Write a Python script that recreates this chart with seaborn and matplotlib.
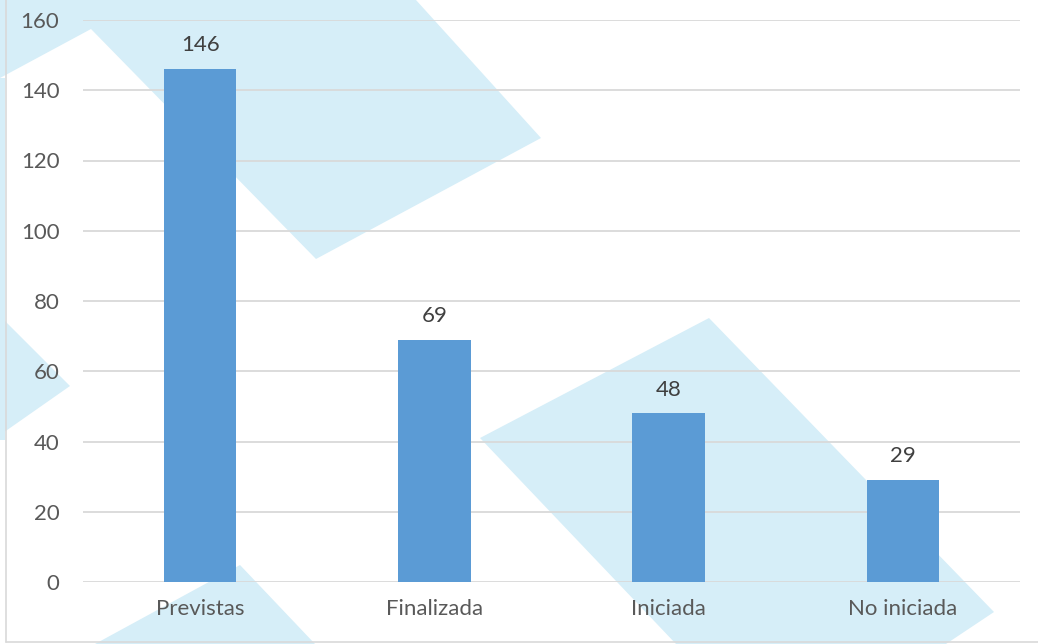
import numpy as np
import pandas as pd
import seaborn as sns
import matplotlib.pyplot as plt
from matplotlib.patches import Polygon
from matplotlib.lines import Line2D

estados = ["Previstas", "Finalizada", "Iniciada", "No iniciada"]
valores = [146, 69, 48, 29]
yticks = [0, 20, 40, 60, 80, 100, 120, 140, 160]

data = pd.DataFrame({"estado": estados, "valor": valores})

sns.set_theme(style="white")
plt.rcParams['font.family'] = ['Lato', 'DejaVu Sans']

W, H = 1038, 644
fig = plt.figure(figsize=(W / 100, H / 100), dpi=100)
fig.patch.set_facecolor("white")

# watermark shapes behind the chart (pixel coords of the picture)
marca = [
    [(0, 0), (416, 0), (541, 138), (316, 259), (91, 29), (0, 78)],
    [(0, 316), (70, 386), (0, 435)],
    [(95, 644), (240, 565), (315, 644)],
    [(480, 438), (709, 318), (994, 612), (946, 644), (676, 644)],
    [(0, 78), (5, 78), (5, 440), (0, 440)],
]
for pts in marca:
    xy = [(x / W, 1 - y / H) for x, y in pts]
    fig.patches.append(Polygon(xy, closed=True, transform=fig.transFigure,
                               facecolor="#d6eef8", edgecolor="none", zorder=-2))

# thin frame on left and bottom
fig.lines.append(Line2D([6 / W, 6 / W], [1, 1 - 642 / H], transform=fig.transFigure,
                        color="#d9d9d9", lw=1.2, zorder=-1))
fig.lines.append(Line2D([6 / W, 1], [1 - 642 / H, 1 - 642 / H], transform=fig.transFigure,
                        color="#d9d9d9", lw=1.2, zorder=-1))

ax = fig.add_axes([83 / W, 1 - 582 / H, (1020 - 83) / W, (582 - 20) / H])
ax.patch.set_alpha(0)

sns.barplot(data=data, x="estado", y="valor", color="#5b9bd5", width=0.31,
            saturation=1, linewidth=0, ax=ax, zorder=3)

ax.set_ylim(0, 160)
ax.set_yticks(yticks)
ax.set_xlabel("")
ax.set_ylabel("")
ax.yaxis.grid(True, color="#d9d9d9", lw=1.3, zorder=0)
ax.set_axisbelow(True)
for s in ax.spines.values():
    s.set_visible(False)
ax.tick_params(axis="y", length=0, pad=17, labelsize=16, labelcolor="#595959")
ax.tick_params(axis="x", length=0, pad=12, labelsize=16, labelcolor="#595959")

ax.bar_label(ax.containers[0], labels=[str(v) for v in valores], padding=10,
             fontsize=16, color="#404040")

fig.savefig("out.png", dpi=100)
